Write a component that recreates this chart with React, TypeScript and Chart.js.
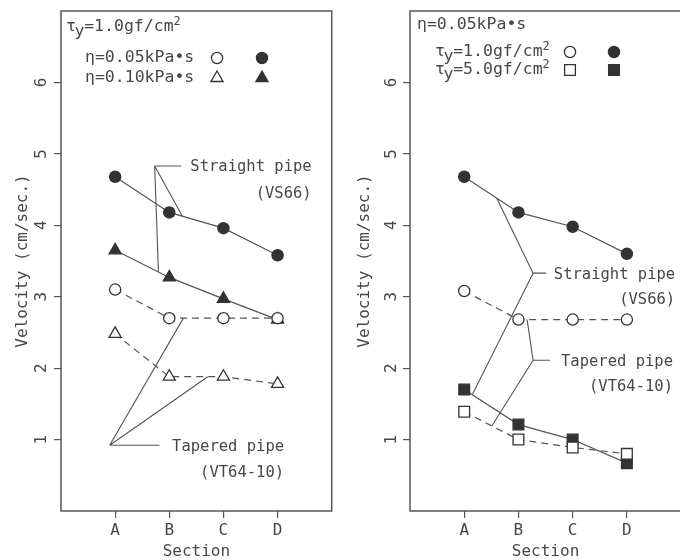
import React, { useEffect, useRef } from "react";
import { Chart, registerables } from "chart.js";

Chart.register(...registerables);

// ---------- data ----------
const sections = ["A", "B", "C", "D"];
const yTickValues = [1, 2, 3, 4, 5, 6];

// Left panel: τy = 1.0 gf/cm²
const leftStraightEta005 = [4.68, 4.18, 3.96, 3.58]; // filled circle
const leftStraightEta010 = [3.65, 3.27, 2.97, 2.68]; // filled triangle
const leftTaperedEta005 = [3.1, 2.7, 2.7, 2.7]; // open circle
const leftTaperedEta010 = [2.48, 1.88, 1.88, 1.78]; // open triangle

// Right panel: η = 0.05 kPa·s
const rightStraightTau10 = [4.68, 4.18, 3.98, 3.6]; // filled circle
const rightTaperedTau10 = [3.08, 2.68, 2.68, 2.68]; // open circle
const rightStraightTau50 = [1.7, 1.21, 1.0, 0.67]; // filled square
const rightTaperedTau50 = [1.39, 1.0, 0.89, 0.8]; // open square

// ---------- styles ----------
const FONT = '"DejaVu Sans Mono", "Liberation Mono", monospace';
const INK = "#474747";
const LINE = "#555555";
const MARK = "#333333";

type Leader = {
  apex: [number, number];
  hEnd: number;
  ends: [number, number][];
  text: string[];
  textX: number;
  textY: number[];
};

const leftLeaders: Leader[] = [
  { apex: [0.73, 4.83], hEnd: 1.22, ends: [[0.8, 3.35], [1.24, 4.13]], text: ["Straight pipe", "(VS66)"], textX: 3.63, textY: [4.82, 4.44] },
  { apex: [-0.1, 0.92], hEnd: 0.82, ends: [[1.26, 2.7], [1.71, 1.88]], text: ["Tapered pipe", "(VT64-10)"], textX: 3.12, textY: [0.9, 0.53] },
];
const rightLeaders: Leader[] = [
  { apex: [1.27, 3.33], hEnd: 1.51, ends: [[0.6, 4.38], [0.15, 1.63]], text: ["Straight pipe", "(VS66)"], textX: 3.89, textY: [3.3, 2.95] },
  { apex: [1.27, 2.11], hEnd: 1.58, ends: [[1.16, 2.68], [0.51, 1.19]], text: ["Tapered pipe", "(VT64-10)"], textX: 3.85, textY: [2.09, 1.74] },
];

type Marker = "circle" | "triangle" | "rect";
type LegendRow = { label: "eta005" | "eta010" | "tau10" | "tau50"; marker: Marker };
type PanelDef = {
  title: "tau10" | "eta005";
  titleDx: number;
  titleDy: number;
  rowsDx: number;
  rowsDy: number[];
  markDx: [number, number];
  rows: LegendRow[];
  leaders: Leader[];
};

const toXY = (vals: number[]) => vals.map((v, i) => ({ x: i, y: v }));

function series(vals: number[], marker: Marker, filled: boolean) {
  const r = marker === "circle" ? 5.6 : marker === "triangle" ? 7 : 7.6;
  return {
    data: toXY(vals),
    borderColor: LINE,
    borderWidth: 1.2,
    borderDash: filled ? [] : [7, 5],
    pointStyle: marker,
    pointRadius: r,
    pointBorderWidth: 1.3,
    pointBorderColor: MARK,
    pointBackgroundColor: filled ? MARK : "#ffffff",
    fill: false,
    tension: 0,
  };
}

function drawMarker(ctx: CanvasRenderingContext2D, m: Marker, x: number, y: number, filled: boolean) {
  ctx.save();
  ctx.beginPath();
  if (m === "circle") {
    ctx.arc(x, y, 5.6, 0, Math.PI * 2);
  } else if (m === "triangle") {
    const r = 7;
    ctx.moveTo(x, y - r);
    ctx.lineTo(x + r * Math.sin((2 * Math.PI) / 3), y - r * Math.cos((2 * Math.PI) / 3));
    ctx.lineTo(x + r * Math.sin((4 * Math.PI) / 3), y - r * Math.cos((4 * Math.PI) / 3));
    ctx.closePath();
  } else {
    const s = 7.6 * Math.SQRT1_2;
    ctx.rect(x - s, y - s, 2 * s, 2 * s);
  }
  ctx.fillStyle = filled ? MARK : "#ffffff";
  ctx.fill();
  ctx.lineWidth = 1.3;
  ctx.strokeStyle = MARK;
  ctx.stroke();
  ctx.restore();
}

// draw text parts in sequence: [text, dy, sizeScale, advanceScale]
function drawParts(ctx: CanvasRenderingContext2D, x: number, y: number, size: number, parts: [string, number, number, number][]) {
  let cx = x;
  ctx.textAlign = "left";
  ctx.textBaseline = "middle";
  for (const [t, dy, sc, adv] of parts) {
    ctx.font = `${size * sc}px ${FONT}`;
    ctx.fillText(t, cx, y + dy);
    cx += ctx.measureText(t).width * adv;
  }
}

function drawLabel(ctx: CanvasRenderingContext2D, kind: string, x: number, y: number, size: number) {
  ctx.fillStyle = INK;
  if (kind === "eta005") drawParts(ctx, x, y, size, [["η=0.05kPa•s", 0, 1, 1]]);
  else if (kind === "eta010") drawParts(ctx, x, y, size, [["η=0.10kPa•s", 0, 1, 1]]);
  else if (kind === "tau10")
    drawParts(ctx, x, y, size, [["τ", 0, 1, 0.85], ["y", 5, 1, 0.98], ["=1.0gf/cm", 0, 1, 1], ["2", -5, 0.72, 1]]);
  else if (kind === "tau50")
    drawParts(ctx, x, y, size, [["τ", 0, 1, 0.85], ["y", 5, 1, 0.98], ["=5.0gf/cm", 0, 1, 1], ["2", -5, 0.72, 1]]);
}

function makeDecor(def: PanelDef) {
  return {
    id: "decor",
    afterDraw(chart: any) {
      const ctx: CanvasRenderingContext2D = chart.ctx;
      const ca = chart.chartArea;
      const xs = chart.scales.x;
      const ys = chart.scales.y;
      ctx.save();
      // frame
      ctx.strokeStyle = LINE;
      ctx.lineWidth = 1.5;
      ctx.strokeRect(ca.left, ca.top, ca.right - ca.left, ca.bottom - ca.top);
      // legend
      drawLabel(ctx, def.title, ca.left + def.titleDx, ca.top + def.titleDy, 16.5);
      def.rows.forEach((row, i) => {
        const y = ca.top + def.rowsDy[i];
        drawLabel(ctx, row.label, ca.left + def.rowsDx, y, 16.5);
        drawMarker(ctx, row.marker, ca.left + def.markDx[0], y, false);
        drawMarker(ctx, row.marker, ca.left + def.markDx[1], y, true);
      });
      // leaders
      ctx.strokeStyle = LINE;
      ctx.lineWidth = 1.1;
      for (const L of def.leaders) {
        const ax = xs.getPixelForValue(L.apex[0]);
        const ay = ys.getPixelForValue(L.apex[1]);
        ctx.beginPath();
        ctx.moveTo(xs.getPixelForValue(L.hEnd), ay);
        ctx.lineTo(ax, ay);
        for (const e of L.ends) {
          ctx.moveTo(ax, ay);
          ctx.lineTo(xs.getPixelForValue(e[0]), ys.getPixelForValue(e[1]));
        }
        ctx.stroke();
        ctx.fillStyle = INK;
        ctx.font = `15.5px ${FONT}`;
        ctx.textAlign = "right";
        ctx.textBaseline = "middle";
        L.text.forEach((t, i) => {
          ctx.fillText(t, xs.getPixelForValue(L.textX), ys.getPixelForValue(L.textY[i]));
        });
      }
      ctx.restore();
    },
  };
}

function buildScales(yWidth: number, titlePad: number, tickPad: number) {
  const tickFont = { family: FONT, size: 16 };
  return {
    x: {
      type: "linear" as const,
      min: -1,
      max: 4,
      afterBuildTicks: (s: any) => {
        s.ticks = sections.map((_, i) => ({ value: i }));
      },
      afterFit: (s: any) => {
        s.height = 49;
        s.paddingLeft = 0;
        s.paddingRight = 0;
      },
      ticks: {
        callback: (v: any) => sections[v] ?? "",
        font: tickFont,
        color: INK,
        padding: 3,
        autoSkip: false,
        maxRotation: 0,
      },
      grid: { display: true, drawOnChartArea: false, drawTicks: true, tickLength: 7, color: LINE, lineWidth: 1.2 },
      border: { display: false },
      title: { display: true, text: "Section", color: INK, font: { family: FONT, size: 16, lineHeight: 1 }, padding: 0 },
    },
    y: {
      type: "linear" as const,
      min: 0,
      max: 7,
      afterBuildTicks: (s: any) => {
        s.ticks = yTickValues.map((v) => ({ value: v }));
      },
      afterFit: (s: any) => {
        s.width = yWidth;
        s.paddingTop = 0;
        s.paddingBottom = 0;
      },
      ticks: {
        font: tickFont,
        color: INK,
        minRotation: 90,
        maxRotation: 90,
        crossAlign: "center" as const,
        padding: tickPad,
      },
      grid: { display: true, drawOnChartArea: false, drawTicks: true, tickLength: 7, color: LINE, lineWidth: 1.2 },
      border: { display: false },
      title: {
        display: true,
        text: "Velocity (cm/sec.)",
        color: INK,
        font: { family: FONT, size: 16, lineHeight: 1 },
        padding: { top: titlePad, bottom: 0 },
      },
    },
  };
}

function Panel(props: { def: PanelDef; datasets: any[]; width: number; yWidth: number; titlePad: number; tickPad: number; padRight: number; left: number }) {
  const ref = useRef<HTMLCanvasElement>(null);
  useEffect(() => {
    if (!ref.current) return;
    const chart = new Chart(ref.current, {
      type: "line",
      data: { datasets: props.datasets },
      options: {
        responsive: false,
        devicePixelRatio: 1,
        animation: false,
        layout: { padding: { left: 0, top: 11, right: props.padRight, bottom: 0 } },
        plugins: { legend: { display: false }, tooltip: { enabled: false } },
        scales: buildScales(props.yWidth, props.titlePad, props.tickPad) as any,
      },
      plugins: [makeDecor(props.def)],
    });
    return () => chart.destroy();
  }, []);
  return (
    <canvas
      ref={ref}
      width={props.width}
      height={560}
      style={{ position: "absolute", left: props.left, top: 0, width: props.width, height: 560 }}
    />
  );
}

const leftDef: PanelDef = {
  title: "tau10",
  titleDx: 5,
  titleDy: 16,
  rowsDx: 24,
  rowsDy: [47, 67],
  markDx: [156, 201],
  rows: [
    { label: "eta005", marker: "circle" },
    { label: "eta010", marker: "triangle" },
  ],
  leaders: leftLeaders,
};

const rightDef: PanelDef = {
  title: "eta005",
  titleDx: 7,
  titleDy: 14,
  rowsDx: 25,
  rowsDy: [41, 59],
  markDx: [160, 204],
  rows: [
    { label: "tau10", marker: "circle" },
    { label: "tau50", marker: "rect" },
  ],
  leaders: rightLeaders,
};

export default function App() {
  const leftDatasets = [
    series(leftTaperedEta005, "circle", false),
    series(leftStraightEta005, "circle", true),
    series(leftTaperedEta010, "triangle", false),
    series(leftStraightEta010, "triangle", true),
  ];
  const rightDatasets = [
    series(rightTaperedTau50, "rect", false),
    series(rightStraightTau50, "rect", true),
    series(rightTaperedTau10, "circle", false),
    series(rightStraightTau10, "circle", true),
  ];
  return (
    <div style={{ position: "absolute", left: 0, top: 0, width: 680, height: 560, overflow: "hidden", background: "#ffffff" }}>
      <Panel def={leftDef} datasets={leftDatasets} width={340} yWidth={61} titlePad={15} tickPad={7} padRight={7} left={0} />
      <Panel def={rightDef} datasets={rightDatasets} width={350} yWidth={70} titlePad={17} tickPad={6} padRight={5} left={340} />
    </div>
  );
}
